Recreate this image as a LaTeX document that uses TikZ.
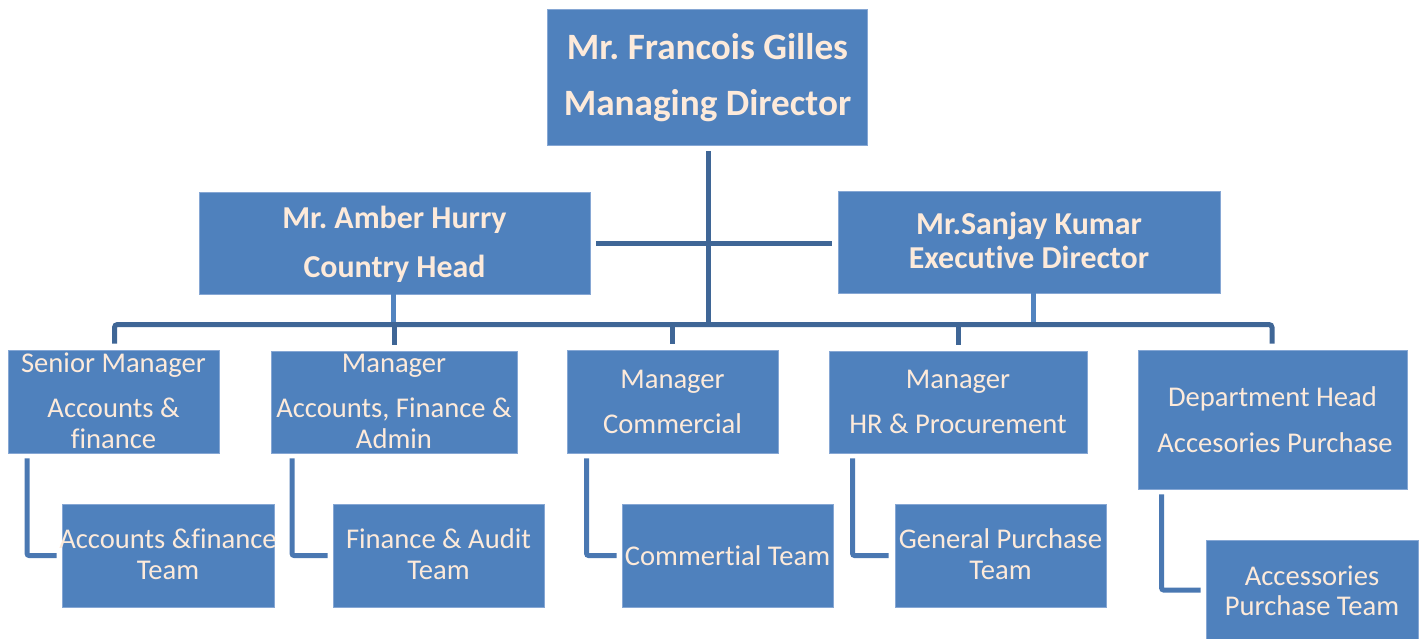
\documentclass[tikz,border=0pt]{standalone}
\usepackage{fontspec}
\setmainfont{Carlito}[Ligatures=NoCommon]
\frenchspacing
\definecolor{boxfill}{HTML}{4F81BD}
\definecolor{boxedge}{HTML}{86A7D4}
\definecolor{linkdark}{HTML}{3F6696}
\definecolor{linkmid}{HTML}{4A78B2}
\definecolor{linklight}{HTML}{5284C0}
\definecolor{labelcream}{HTML}{FDEADA}
\begin{document}
\begin{tikzpicture}[x=1pt,y=-1pt,
  ebox/.style={rectangle,fill=boxfill,draw=boxedge,line width=0.8pt,inner sep=0pt},
  tlabel/.style={anchor=base,inner sep=0pt,text=labelcream},
  ttop/.style={tlabel,font=\fontsize{37.2}{40}\selectfont\bfseries},
  tsub/.style={tlabel,font=\fontsize{31.9}{36}\selectfont\bfseries},
  tbody/.style={tlabel,font=\fontsize{28.6}{34}\selectfont},
  mainline/.style={draw=linkdark,line width=5pt},
  elbowline/.style={draw=linkmid,line width=5pt,rounded corners=2pt},
  dropline/.style={draw=linklight,line width=5pt}]
\useasboundingbox (0,0) rectangle (1421,638);

% boxes
\node[ebox,minimum width=320pt,minimum height=136pt] (md) at (707,77) {};
\node[ebox,minimum width=391pt,minimum height=102pt] (amber) at (394.5,243) {};
\node[ebox,minimum width=382pt,minimum height=102pt] (sanjay) at (1029,242) {};
\node[ebox,minimum width=211pt,minimum height=103pt] (sm) at (113.5,401.5) {};
\node[ebox,minimum width=246pt,minimum height=102pt] (afa) at (394,402) {};
\node[ebox,minimum width=211pt,minimum height=103pt] (com) at (672.5,401.5) {};
\node[ebox,minimum width=258pt,minimum height=102pt] (hr) at (958,402) {};
\node[ebox,minimum width=269pt,minimum height=139pt] (dh) at (1272.5,419.5) {};
\node[ebox,minimum width=212pt,minimum height=103pt] (aft) at (168,555.5) {};
\node[ebox,minimum width=211pt,minimum height=103pt] (fat) at (438.5,555.5) {};
\node[ebox,minimum width=211pt,minimum height=103pt] (ct) at (727.5,555.5) {};
\node[ebox,minimum width=211pt,minimum height=103pt] (gpt) at (1000.5,555.5) {};
\node[ebox,minimum width=212pt,minimum height=100pt] (apt) at (1312,590) {};

% box texts
\node[ttop] (md1) at (707.5,59) {Mr. Francois Gilles};
\node[ttop] (md2) at (707.5,115) {Managing Director};
\node[tsub] (am1) at (394.5,228) {Mr. Amber Hurry};
\node[tsub] (am2) at (394.5,277) {Country Head};
\node[tsub] (sk1) at (1029,234) {Mr.Sanjay Kumar};
\node[tsub] (sk2) at (1029,268) {Executive Director};
\node[tbody] (sm1) at (113.5,372) {Senior Manager};
\node[tbody] (sm2) at (113.5,417) {Accounts \&};
\node[tbody] (sm3) at (113.5,448) {finance};
\node[tbody] (afa1) at (394,372) {Manager};
\node[tbody] (afa2) at (394,417) {Accounts, Finance \&};
\node[tbody] (afa3) at (394,448) {Admin};
\node[tbody] (com1) at (672.5,388) {Manager};
\node[tbody] (com2) at (672.5,433) {Commercial};
\node[tbody] (hr1) at (958,388) {Manager};
\node[tbody] (hr2) at (958,433) {HR \& Procurement};
\node[tbody] (dh1) at (1272.5,406) {Department Head};
\node[tbody] (dh2) at (1275,452) {Accesories Purchase};
\node[tbody] (aft1) at (168,548) {Accounts \&finance};
\node[tbody] (aft2) at (168,579) {Team};
\node[tbody] (fat1) at (438.5,548) {Finance \& Audit};
\node[tbody] (fat2) at (438.5,579) {Team};
\node[tbody] (ct1) at (727.5,565) {Commertial Team};
\node[tbody] (gpt1) at (1000.5,548) {General Purchase};
\node[tbody] (gpt2) at (1000.5,579) {Team};
\node[tbody] (apt1) at (1312,585) {Accessories};
\node[tbody] (apt2) at (1312,615) {Purchase Team};

% junction of the reporting bus
\coordinate (hub) at (708,324.5);

% directors down to the bus
\draw[dropline] ([xshift=-1pt]amber.south) -- ([xshift=-1pt]amber.south |- hub);
\draw[dropline] ([xshift=4pt]sanjay.south) -- ([xshift=4pt]sanjay.south |- hub);

% managing director spine and director link
\draw[mainline] ([xshift=1pt,yshift=-6pt]md.south) -- (hub);
\draw[mainline] ([xshift=6pt]amber.east) -- ([xshift=-6pt]sanjay.west |- amber.east);

% reporting bus with drops to the managers
\draw[mainline,rounded corners=3pt] ([xshift=1pt,yshift=6pt]sm.north) |- (hub) -| ([xshift=-0.5pt,yshift=6pt]dh.north);
\foreach \n in {afa,com,hr}
  \draw[mainline] (\n.north |- hub) -- ([yshift=6pt]\n.north);

% managers to their teams
\draw[elbowline] ([xshift=19.5pt,yshift=-5pt]sm.south west) |- ([xshift=-5pt]aft.west);
\draw[elbowline] ([xshift=21.5pt,yshift=-5pt]afa.south west) |- ([xshift=-5pt]fat.west);
\draw[elbowline] ([xshift=20pt,yshift=-5pt]com.south west) |- ([xshift=-5pt]ct.west);
\draw[elbowline] ([xshift=24pt,yshift=-5pt]hr.south west) |- ([xshift=-6pt]gpt.west);
\draw[elbowline] ([xshift=24pt,yshift=-5pt]dh.south west) |- ([xshift=-5pt]apt.west);
\end{tikzpicture}
\end{document}
